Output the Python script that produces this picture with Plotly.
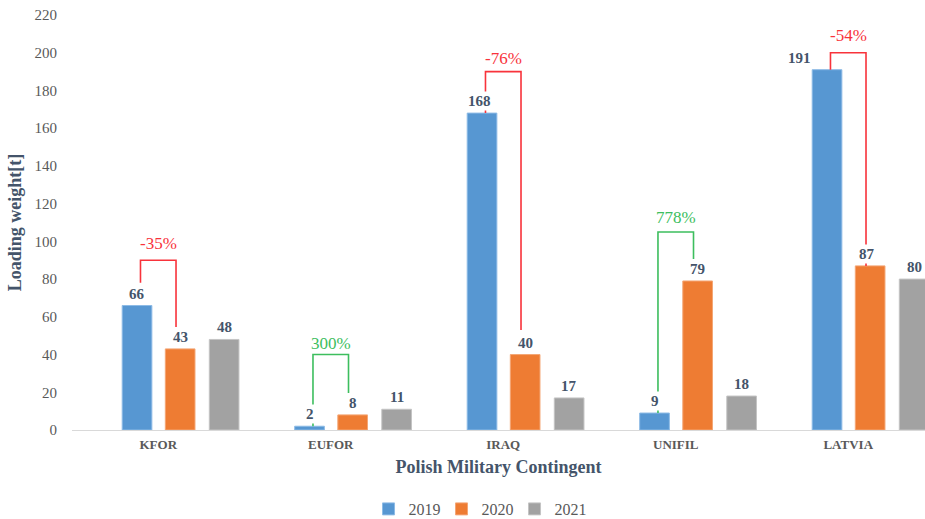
import plotly.graph_objects as go

# ---------------- data ----------------
categories = ["KFOR", "EUFOR", "IRAQ", "UNIFIL", "LATVIA"]
years = ["2019", "2020", "2021"]
v2019 = [66, 2, 168, 9, 191]
v2020 = [43, 8, 40, 79, 87]
v2021 = [48, 11, 17, 18, 80]
change_labels = ["-35%", "300%", "-76%", "778%", "-54%"]
y_ticks = [0, 20, 40, 60, 80, 100, 120, 140, 160, 180, 200, 220]

# ---------------- styles / geometry ----------------
FONT = "Liberation Serif"
SLATE = "#44546A"
GREY_TXT = "#595959"
bar_colors = ["#5797D2", "#EE7C33", "#A2A2A2"]
bar_lines = ["#8DBBE6", "#F4A675", "#C4C4C4"]
bar_offsets = [-0.209, 0.041, 0.296]   # left edge of each series bar, category units
bar_width = 0.172
RED = "#F8333B"
GREEN = "#3DBE5E"
# bracket geometry: (top, left end, right end, label centre, colour) in data units
brackets = [
    (90, 78, 54.6, 99.0, RED),
    (40, 2, 19.6, 46.0, GREEN),
    (190, 168, 53, 196.7, RED),
    (105, 9, 90.6, 112.4, GREEN),
    (200, 191, 87, 209.0, RED),
]
bracket_dx = 0.103
# per-label x shifts (px) for labels moved aside
label_xshift = {(0, 2): -3, (0, 4): -28, (1, 4): -3}

series = [v2019, v2020, v2021]
xpos = list(range(len(categories)))

fig = go.Figure()
for s, (name, vals) in enumerate(zip(years, series)):
    fig.add_trace(go.Bar(
        x=xpos, y=vals, name=name,
        offset=bar_offsets[s], width=bar_width,
        marker=dict(color=bar_colors[s], line=dict(color=bar_lines[s], width=1)),
        hoverinfo="skip",
    ))

shapes = []
annotations = []
# percentage-change brackets
for i, (top, le, re, ly, col) in enumerate(brackets):
    xl = i - bracket_dx
    xr = i + bracket_dx
    shapes.append(dict(type="path", xref="x", yref="y",
                       path=f"M {xl},{le} L {xl},{top} L {xr},{top} L {xr},{re}",
                       line=dict(color=col, width=1.6), layer="above"))
    annotations.append(dict(x=i, y=ly, xref="x", yref="y", text=change_labels[i],
                            showarrow=False, yanchor="middle",
                            font=dict(family=FONT, size=17, color=col)))

# data labels (white background so bracket lines pass behind them)
for s, vals in enumerate(series):
    for i, v in enumerate(vals):
        cx = i + bar_offsets[s] + bar_width / 2
        annotations.append(dict(x=cx, y=v, xref="x", yref="y", text=f"<b>{v}</b>",
                                showarrow=False, yanchor="bottom", yshift=2,
                                xshift=label_xshift.get((s, i), 0),
                                bgcolor="white", borderpad=1,
                                font=dict(family=FONT, size=15, color=SLATE)))

fig.update_layout(
    width=925, height=519,
    margin=dict(l=72, r=0, t=15, b=89),
    paper_bgcolor="white", plot_bgcolor="white",
    barmode="overlay",
    font=dict(family=FONT, color=GREY_TXT),
    shapes=shapes, annotations=annotations,
    legend=dict(orientation="h", x=0.476, xanchor="center",
                yref="container", y=0.0193, yanchor="middle",
                font=dict(family=FONT, size=16, color=GREY_TXT),
                itemwidth=30, entrywidth=28, traceorder="normal"),
    xaxis=dict(
        range=[-0.5, 4.445], tickmode="array", tickvals=xpos,
        ticktext=[f"<b>{c}</b>" for c in categories],
        tickfont=dict(family=FONT, size=13, color=GREY_TXT),
        showline=True, linecolor="#D9D9D9", linewidth=1, automargin=False,
        showgrid=False, zeroline=False, ticks="", ticklabelstandoff=2,
        title=dict(text="<b>Polish Military Contingent</b>", standoff=9,
                   font=dict(family=FONT, size=18, color=SLATE)),
    ),
    yaxis=dict(
        range=[0, 220], tickmode="array", tickvals=y_ticks, automargin=False,
        tickfont=dict(family=FONT, size=15, color=GREY_TXT),
        showline=False, showgrid=False, zeroline=False, ticks="",
        ticklabelstandoff=14,
        title=dict(text="<b>Loading weight[t]</b>", standoff=8,
                   font=dict(family=FONT, size=18, color=SLATE)),
    ),
)

fig.write_html("out.html")
